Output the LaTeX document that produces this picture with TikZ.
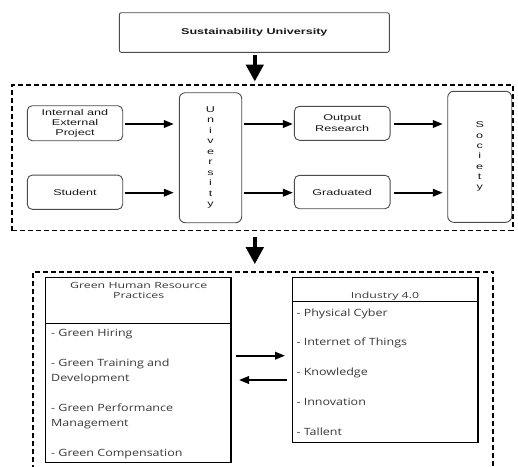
\documentclass[tikz,border=0pt]{standalone}
\usepackage{fontspec}
\setmainfont{Liberation Sans}
\newfontfamily\topfont[FakeStretch=1.5]{Liberation Sans}
\newfontfamily\botfont[FakeStretch=1.25]{Open Sans}
\newfontfamily\headfont[FakeStretch=1.45]{Open Sans}
\usetikzlibrary{arrows.meta}
\begin{document}
\begin{tikzpicture}[x=1pt,y=-1pt,
  tbox/.style={draw=black!70, line width=0.9pt, rounded corners=5pt, inner sep=0pt,
    font=\topfont\fontsize{8.4}{9.8}\selectfont, align=center, text=black!90},
  harr/.style={line width=2pt, -{Triangle[length=10pt,width=7.5pt]}},
  varr/.style={line width=4.5pt, -{Triangle[length=17pt,width=17pt]}},
  dbox/.style={draw=black, line width=1.8pt, dash pattern=on 5pt off 3pt},
  bbox/.style={draw=black, line width=1.4pt, inner sep=0pt},
  item/.style={anchor=base west, inner sep=0pt, font=\botfont\fontsize{10}{12}\selectfont, text=black!78},
  head/.style={inner sep=0pt, font=\headfont\fontsize{8.5}{10}\selectfont, text=black!78, align=center},
]
\useasboundingbox (0,0) rectangle (518,466);
\fill[white] (0,0) rectangle (518,466);

% ---------- top ----------
\node[tbox, rounded corners=2pt, minimum width=270pt, minimum height=39.6pt,
  font=\topfont\bfseries\fontsize{8.4}{9.8}\selectfont] (su) at (254.3,32.5) {Sustainability University};

\node[dbox, minimum width=500.7pt, minimum height=145.5pt, inner sep=0pt] (f1) at (262.65,157.75) {};

\node[tbox, minimum width=95.4pt, minimum height=35pt] (iep) at (75,123.2) {Internal and\\External\\Project};
\node[tbox, minimum width=95.4pt, minimum height=34.3pt] (stu) at (75,192.2) {Student};
\node[tbox, rounded corners=6pt, minimum width=62.4pt, minimum height=130pt,
  font=\topfont\fontsize{8.4}{10.5}\selectfont] (uni) at (210.5,157.7) {U\\n\\i\\v\\e\\r\\s\\i\\t\\y};
\node[tbox, minimum width=95.7pt, minimum height=34pt, font=\topfont\fontsize{8.4}{10.5}\selectfont] (out) at (342.2,123.3) {Output\\Research};
\node[tbox, minimum width=95.7pt, minimum height=33.4pt] (gra) at (342.2,192) {Graduated};
\node[tbox, rounded corners=6pt, minimum width=64pt, minimum height=131pt,
  font=\topfont\fontsize{8.4}{10.3}\selectfont] (soc) at (479.7,156.8) {S\\o\\c\\i\\e\\t\\y};

\coordinate (r1) at (0,124);
\coordinate (r2) at (0,192.7);
\draw[harr, shorten <=1.5pt, shorten >=5pt] (iep.east |- r1) -- (uni.west |- r1);
\draw[harr, shorten <=1.5pt, shorten >=5pt] (stu.east |- r2) -- (uni.west |- r2);
\draw[harr, shorten <=1.5pt, shorten >=1pt] (uni.east |- r1) -- (out.west |- r1);
\draw[harr, shorten <=1.5pt, shorten >=1pt] (uni.east |- r2) -- (gra.west |- r2);
\draw[harr, shorten <=3pt, shorten >=4.5pt] (out.east |- r1) -- (soc.west |- r1);
\draw[harr, shorten <=3pt, shorten >=4.5pt] (gra.east |- r2) -- (soc.west |- r2);

\coordinate (ax) at (254.8,0);
\draw[varr, shorten <=2pt, shorten >=2.5pt] (su.south -| ax) -- (f1.north -| ax);

% ---------- bottom ----------
\coordinate (f2a) at (33,470);
\coordinate (f2b) at (33,271.7);
\coordinate (f2c) at (493,271.7);
\coordinate (f2d) at (493,470);
\draw[dbox] (f2a) -- (f2b) -- (f2c) -- (f2d);

\draw[varr, shorten <=5.5pt, shorten >=7.5pt] (f1.south -| ax) -- (f2b -| ax);

\node[bbox, minimum width=185.3pt, minimum height=185.2pt] (gh) at (138.35,370.1) {};
\draw[line width=1.4pt] ([yshift=-46.5pt]gh.north west) -- ([yshift=-46.5pt]gh.north east);
\node[bbox, minimum width=185.3pt, minimum height=165pt] (ind) at (385.35,359.8) {};
\draw[line width=1.4pt] ([yshift=-25pt]ind.north west) -- ([yshift=-25pt]ind.north east);

\node[head, anchor=base] (ghh) at (138.7,298.3) {Green Human Resource\\Practices};
\node[head, anchor=base] (indh) at (385,298.3) {Industry 4.0};

\node[item] (g1) at (51,336.7) {- Green Hiring};
\node[item] (g2) at (51,366.7) {- Green Training and};
\node[item] (g3) at (51,381) {Development};
\node[item] (g4) at (51,411.7) {- Green Performance};
\node[item] (g5) at (51,426.7) {Management};
\node[item] (g6) at (51,456.7) {- Green Compensation};

\node[item] (i1) at (296.3,316) {- Physical Cyber};
\node[item] (i2) at (296.3,345.7) {- Internet of Things};
\node[item] (i3) at (296.3,375.7) {- Knowledge};
\node[item] (i4) at (296.3,405.7) {- Innovation};
\node[item] (i5) at (296.3,435.7) {- Tallent};

\coordinate (b1) at (0,355.7);
\coordinate (b2) at (0,380);
\draw[harr, shorten <=4.7pt, shorten >=7pt] (gh.east |- b1) -- (ind.west |- b1);
\draw[harr, shorten <=5pt, shorten >=7.3pt] (ind.west |- b2) -- (gh.east |- b2);
\end{tikzpicture}
\end{document}
